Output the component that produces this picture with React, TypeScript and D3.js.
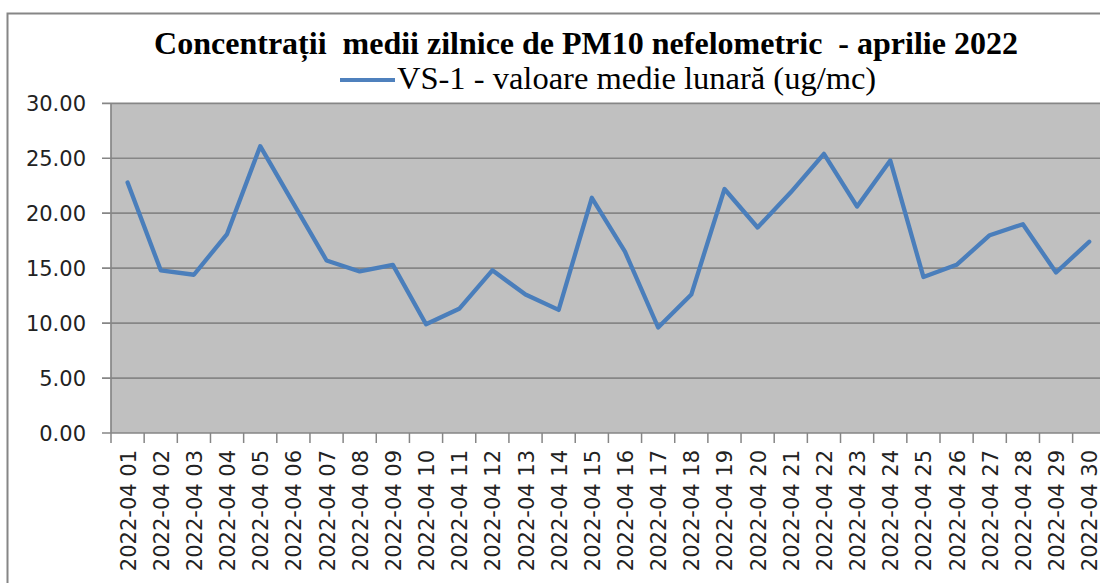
import React from "react";
import * as d3 from "d3";

const TITLE = "Concentrații  medii zilnice de PM10 nefelometric  - aprilie 2022";
const SERIES_NAME = "VS-1 - valoare medie lunară (ug/mc)";
const DAYS = [
  "2022-04 01", "2022-04 02", "2022-04 03", "2022-04 04", "2022-04 05",
  "2022-04 06", "2022-04 07", "2022-04 08", "2022-04 09", "2022-04 10",
  "2022-04 11", "2022-04 12", "2022-04 13", "2022-04 14", "2022-04 15",
  "2022-04 16", "2022-04 17", "2022-04 18", "2022-04 19", "2022-04 20",
  "2022-04 21", "2022-04 22", "2022-04 23", "2022-04 24", "2022-04 25",
  "2022-04 26", "2022-04 27", "2022-04 28", "2022-04 29", "2022-04 30",
];
const VALUES = [
  22.8, 14.8, 14.4, 18.1, 26.1, 20.9, 15.7, 14.7, 15.3, 9.9,
  11.3, 14.8, 12.6, 11.2, 21.4, 16.5, 9.6, 12.6, 22.2, 18.7,
  21.9, 25.4, 20.6, 24.8, 14.2, 15.3, 18.0, 19.0, 14.6, 17.4,
];
const Y_TICKS = [0, 5, 10, 15, 20, 25, 30];

const W = 1100;
const H = 583;
const M = { left: 111, top: 103.3, bottom: 433 };
const BAND = 33.16;
const SERIF = "'Liberation Serif', 'Times New Roman', Times, serif";
const SANS = "'DejaVu Sans', Verdana, sans-serif";

export default function App() {
  const x = d3
    .scaleBand<string>()
    .domain(DAYS)
    .range([M.left, M.left + BAND * DAYS.length])
    .paddingInner(0)
    .paddingOuter(0);
  const y = d3.scaleLinear().domain([0, 30]).range([M.bottom, M.top]);
  const line = d3
    .line<number>()
    .x((_, i) => (x(DAYS[i]) as number) + x.bandwidth() / 2)
    .y((d) => y(d));
  const plotRight = M.left + BAND * DAYS.length;
  const axisColor = "#868686";

  return (
    <svg
      width={W}
      height={H}
      style={{ position: "absolute", left: 0, top: 0, display: "block", background: "#fff" }}
    >
      {/* outer chart border */}
      <rect x={7.5} y={13.5} width={W + 20} height={H + 20} fill="#fff" stroke={axisColor} strokeWidth={2} />

      {/* title */}
      <text
        x={586}
        y={53.5}
        textAnchor="middle"
        fontFamily={SERIF}
        fontWeight="bold"
        fontSize={32}
        style={{ whiteSpace: "pre", fontFamily: SERIF }}
        fill="#000"
      >
        {TITLE}
      </text>

      {/* legend */}
      <line x1={340} x2={395} y1={80} y2={80} stroke="#4f81bd" strokeWidth={4} />
      <text
        x={397}
        y={88.5}
        fontFamily={SERIF}
        fontSize={32.5}
        style={{ fontFamily: SERIF }}
        fill="#000"
      >
        {SERIES_NAME}
      </text>

      {/* plot background */}
      <rect x={M.left} y={M.top} width={plotRight - M.left} height={M.bottom - M.top} fill="#c0c0c0" />

      {/* gridlines + y ticks */}
      {Y_TICKS.map((t) => (
        <g key={t}>
          <line x1={M.left - 9} x2={plotRight} y1={y(t)} y2={y(t)} stroke={axisColor} strokeWidth={1.7} />
          <text
            x={86}
            y={y(t)}
            dy="0.36em"
            textAnchor="end"
            fontFamily={SANS}
            fontSize={21}
            fill="#222"
          >
            {t.toFixed(2)}
          </text>
        </g>
      ))}

      {/* y axis line */}
      <line x1={M.left} x2={M.left} y1={M.top} y2={M.bottom} stroke={axisColor} strokeWidth={1.7} />

      {/* x ticks */}
      {DAYS.map((d) => (
        <line
          key={"t" + d}
          x1={x(d) as number}
          x2={x(d) as number}
          y1={M.bottom}
          y2={M.bottom + 10}
          stroke={axisColor}
          strokeWidth={1.5}
        />
      ))}

      {/* x labels */}
      {DAYS.map((d) => {
        const cx = (x(d) as number) + x.bandwidth() / 2;
        return (
          <text
            key={"l" + d}
            transform={`translate(${cx + 8},${450}) rotate(-90)`}
            textAnchor="end"
            fontFamily={SANS}
            fontSize={21}
            fill="#222"
            style={{ whiteSpace: "pre" }}
          >
            {d}
          </text>
        );
      })}

      {/* data line */}
      <path d={line(VALUES) || ""} fill="none" stroke="#4a7ebb" strokeWidth={4.3} strokeLinejoin="round" strokeLinecap="round" />
    </svg>
  );
}
